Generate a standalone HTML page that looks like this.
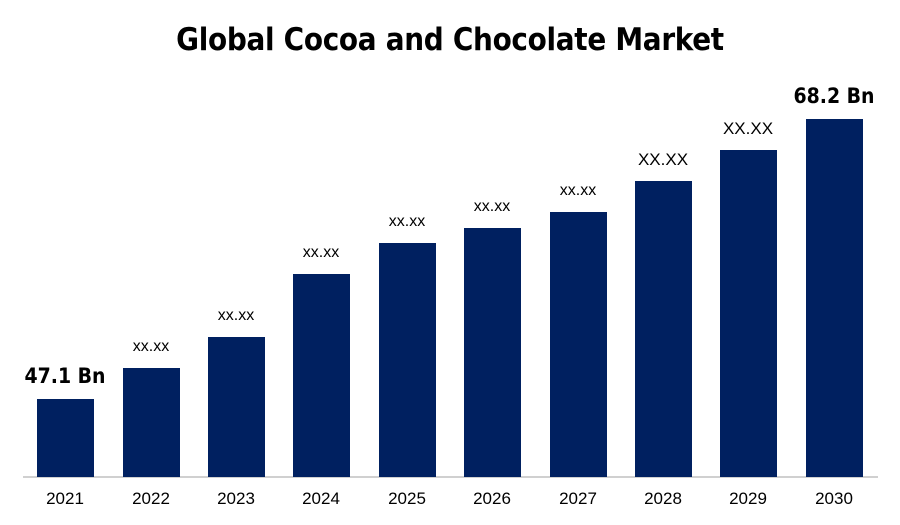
<!DOCTYPE html>
<html><head><style>
body{margin:0;width:900px;height:525px;background:#fff;position:relative;overflow:hidden;font-family:"Liberation Sans",Arial,sans-serif;}
.t{position:absolute;left:0;width:900px;top:22px;text-align:center;font-size:31px;font-weight:bold;color:#000;font-family:"DejaVu Sans Condensed","Liberation Sans",sans-serif;letter-spacing:-0.3px}
.b{position:absolute;width:57px;background:#002060;bottom:48px}
.l{position:absolute;width:120px;text-align:center;color:#000;font-size:16px}
.y{position:absolute;width:80px;text-align:center;top:489px;font-size:17px;color:#000}
.ax{position:absolute;left:23px;width:855px;top:476px;height:2px;background:#d0d0d0}
.big{font-weight:bold;font-size:21px;font-family:"DejaVu Sans Condensed","Liberation Sans",sans-serif}
</style></head><body>
<div class="t">Global Cocoa and Chocolate Market</div>
<div class="ax"></div>
<div class="b" style="left:37px;top:399px"></div>
<div class="b" style="left:123px;top:368px"></div>
<div class="b" style="left:208px;top:337px"></div>
<div class="b" style="left:293px;top:274px"></div>
<div class="b" style="left:379px;top:243px"></div>
<div class="b" style="left:464px;top:228px"></div>
<div class="b" style="left:550px;top:212px"></div>
<div class="b" style="left:635px;top:181px"></div>
<div class="b" style="left:720px;top:150px"></div>
<div class="b" style="left:806px;top:119px"></div>
<div class="l big" style="left:5px;top:364px">47.1 Bn</div>
<div class="l" style="left:91px;top:338px">xx.xx</div>
<div class="l" style="left:176px;top:307px">xx.xx</div>
<div class="l" style="left:261px;top:244px">xx.xx</div>
<div class="l" style="left:347px;top:213px">xx.xx</div>
<div class="l" style="left:432px;top:198px">xx.xx</div>
<div class="l" style="left:518px;top:182px">xx.xx</div>
<div class="l" style="left:603px;top:150px;font-size:17px">XX.XX</div>
<div class="l" style="left:688px;top:119px;font-size:17px">XX.XX</div>
<div class="l big" style="left:774px;top:84px">68.2 Bn</div>
<div class="y" style="left:25px">2021</div>
<div class="y" style="left:111px">2022</div>
<div class="y" style="left:196px">2023</div>
<div class="y" style="left:281px">2024</div>
<div class="y" style="left:367px">2025</div>
<div class="y" style="left:452px">2026</div>
<div class="y" style="left:538px">2027</div>
<div class="y" style="left:623px">2028</div>
<div class="y" style="left:708px">2029</div>
<div class="y" style="left:794px">2030</div>
</body></html>
